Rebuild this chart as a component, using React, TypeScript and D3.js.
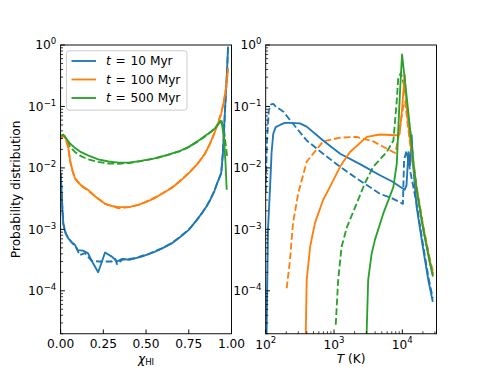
import React from "react";
import * as d3 from "d3";

const width = 485;
const height = 375;
const plotTop = 45;
const plotBottom = 333.75;
const leftRange: [number, number] = [60.6, 231.5];
const rightRange: [number, number] = [265.7, 436.5];

const colors = ["#1f77b4", "#ff7f0e", "#2ca02c"];
const ages = ["10", "100", "500"];
const chiTicks = [0, 0.25, 0.5, 0.75, 1];
const tempDecades = [2, 3, 4];
const probDecades = [-4, -3, -2, -1, 0];

// left panel: neutral fraction, [chi, probability]
const chiSolid10: [number, number][] = [
  [0, 8.3e-3], [0.006, 4e-3], [0.011, 2e-3], [0.016, 1.2e-3], [0.03, 8.5e-4], [0.045, 7.1e-4],
  [0.065, 6.2e-4], [0.084, 5.6e-4], [0.1, 4.6e-4], [0.13, 4.5e-4], [0.16, 4.1e-4], [0.19, 2.8e-4],
  [0.22, 2.0e-4], [0.26, 4.2e-4], [0.3, 3.6e-4], [0.33, 3.0e-4], [0.36, 3.3e-4], [0.4, 3.2e-4],
  [0.44, 3.4e-4], [0.475, 3.6e-4], [0.51, 3.9e-4], [0.55, 4.3e-4], [0.6, 5.0e-4], [0.65, 5.9e-4],
  [0.7, 7.5e-4], [0.75, 9.8e-4], [0.79, 1.35e-3], [0.825, 1.8e-3], [0.855, 2.4e-3], [0.875, 3.0e-3],
  [0.9, 4.2e-3], [0.92, 6.0e-3], [0.94, 8.2e-3], [0.95, 0.018], [0.962, 0.088], [0.972, 0.3], [0.98, 0.94],
];
const chiDashed10: [number, number][] = [
  [0, 8.3e-3], [0.006, 4.1e-3], [0.011, 2.1e-3], [0.016, 1.25e-3], [0.03, 8.6e-4], [0.045, 7.2e-4],
  [0.065, 6.1e-4], [0.084, 5.4e-4], [0.1, 4.5e-4], [0.11, 3.8e-4], [0.143, 4.1e-4], [0.18, 3.1e-4],
  [0.22, 3.0e-4], [0.26, 3.0e-4], [0.3, 3.0e-4], [0.32, 3.3e-4], [0.33, 2.7e-4], [0.36, 3.2e-4],
  [0.4, 3.3e-4], [0.44, 3.4e-4], [0.475, 3.7e-4], [0.51, 3.9e-4], [0.55, 4.4e-4], [0.6, 5.0e-4],
  [0.65, 6.0e-4], [0.7, 7.6e-4], [0.75, 9.9e-4], [0.79, 1.33e-3], [0.825, 1.8e-3], [0.855, 2.4e-3],
  [0.875, 3.0e-3], [0.9, 4.3e-3], [0.92, 6.0e-3], [0.94, 8.3e-3], [0.95, 0.018], [0.962, 0.085],
  [0.972, 0.29], [0.98, 0.92],
];
const chiSolid100: [number, number][] = [
  [0, 0.031], [0.015, 0.034], [0.026, 0.033], [0.045, 0.022], [0.055, 0.0134], [0.07, 0.009],
  [0.084, 0.0068], [0.12, 0.0052], [0.16, 0.0044], [0.21, 0.0033], [0.26, 0.0026], [0.3, 0.0024],
  [0.34, 0.0023], [0.4, 0.0023], [0.455, 0.0025], [0.5, 0.0028], [0.55, 0.0032], [0.6, 0.0039],
  [0.65, 0.0047], [0.7, 0.0061], [0.75, 0.0082], [0.8, 0.0115], [0.845, 0.017], [0.875, 0.025],
  [0.9, 0.037], [0.92, 0.052], [0.94, 0.077], [0.955, 0.12], [0.968, 0.2], [0.98, 0.42],
];
const chiDashed100: [number, number][] = [
  [0, 0.03], [0.015, 0.033], [0.026, 0.032], [0.045, 0.021], [0.055, 0.013], [0.07, 0.0088],
  [0.084, 0.0067], [0.12, 0.0051], [0.16, 0.0043], [0.21, 0.0033], [0.26, 0.0026], [0.3, 0.0024],
  [0.34, 0.0022], [0.4, 0.0023], [0.455, 0.0025], [0.5, 0.0028], [0.55, 0.0033], [0.6, 0.0039],
  [0.65, 0.0048], [0.7, 0.0062], [0.75, 0.0083], [0.8, 0.0116], [0.845, 0.0172], [0.875, 0.025],
  [0.9, 0.037], [0.92, 0.053], [0.94, 0.078], [0.955, 0.12], [0.968, 0.2], [0.98, 0.41],
];
const chiSolid500: [number, number][] = [
  [0, 0.033], [0.015, 0.035], [0.03, 0.031], [0.055, 0.025], [0.085, 0.021], [0.12, 0.018],
  [0.16, 0.016], [0.22, 0.0138], [0.28, 0.0127], [0.34, 0.0122], [0.4, 0.0122], [0.47, 0.013],
  [0.55, 0.0143], [0.62, 0.0162], [0.7, 0.019], [0.75, 0.022], [0.8, 0.027], [0.85, 0.034],
  [0.884, 0.039], [0.91, 0.046], [0.935, 0.058], [0.945, 0.05], [0.955, 0.032], [0.965, 0.012],
  [0.972, 0.0044],
];
const chiDashed500: [number, number][] = [
  [0, 0.032], [0.015, 0.034], [0.03, 0.03], [0.055, 0.022], [0.085, 0.018], [0.12, 0.0155],
  [0.16, 0.0138], [0.22, 0.0125], [0.28, 0.0118], [0.34, 0.0117], [0.4, 0.012], [0.47, 0.0129],
  [0.55, 0.0142], [0.62, 0.016], [0.7, 0.0188], [0.75, 0.0218], [0.8, 0.0265], [0.85, 0.033],
  [0.884, 0.04], [0.91, 0.047], [0.94, 0.06], [0.955, 0.045], [0.965, 0.025], [0.975, 0.015],
];

// right panel: temperature, [T (K), probability]
const tempSolid10: [number, number][] = [
  [103, 2e-5], [108, 1e-3], [116, 5e-3], [122, 0.018], [129, 0.036], [140, 0.046], [162, 0.05],
  [190, 0.054], [227, 0.054], [316, 0.053], [398, 0.047], [692, 0.028], [1230, 0.017], [2400, 0.0115],
  [4700, 0.0076], [7100, 0.006], [10800, 0.0044], [11500, 0.0052], [12300, 0.018], [13000, 0.011],
  [13700, 0.034], [14300, 0.012], [16200, 2.3e-3], [20300, 4.6e-4], [24000, 1.5e-4], [27900, 6.6e-5],
];
const tempDashed10: [number, number][] = [
  [100, 0.004], [104, 0.025], [111, 0.087], [120, 0.108], [129, 0.11], [140, 0.1], [182, 0.082],
  [227, 0.06], [398, 0.028], [692, 0.017], [1230, 0.0104], [2300, 0.0064], [4680, 0.0038],
  [7100, 0.0032], [10200, 0.0026], [10600, 0.0135], [11500, 0.019], [13000, 0.009], [16200, 2.6e-3],
  [20300, 5.2e-4], [24000, 1.7e-4], [27900, 7.5e-5],
];
const tempSolid100: [number, number][] = [
  [386, 2e-5], [398, 1.5e-4], [447, 5.2e-4], [525, 1.26e-3], [692, 3e-3], [871, 4.9e-3],
  [1230, 0.0105], [1700, 0.018], [3020, 0.032], [4680, 0.035], [8300, 0.034], [9100, 0.035],
  [9900, 0.09], [10800, 0.33], [11700, 0.08], [12900, 0.031], [14000, 0.015], [16200, 4.4e-3],
  [20300, 9.8e-4], [25400, 2.8e-4], [28000, 1.9e-4],
];
const tempDashed100: [number, number][] = [
  [203, 1.1e-4], [227, 3.2e-4], [251, 1.26e-3], [300, 3.9e-3], [398, 0.0126], [692, 0.027],
  [1230, 0.031], [2140, 0.032], [3760, 0.027], [7400, 0.018], [7900, 0.0175], [8700, 0.03],
  [10300, 0.1], [11000, 0.12], [12000, 0.05], [13000, 0.025], [14000, 0.013], [16200, 5e-3],
  [20300, 1.1e-3], [25400, 3.2e-4], [28000, 2.1e-4],
];
const tempSolid500: [number, number][] = [
  [3000, 2e-5], [3160, 1.5e-4], [3550, 4e-4], [3980, 6.8e-4], [5250, 1.8e-3], [7400, 4.9e-3],
  [8300, 0.0119], [8700, 0.04], [9300, 0.2], [9900, 0.7], [11500, 0.155], [13200, 0.035],
  [14500, 0.012], [16200, 4.4e-3], [20300, 9.8e-4], [25400, 2.8e-4], [28000, 1.7e-4],
];
const tempDashed500: [number, number][] = [
  [1060, 2.8e-5], [1150, 1.5e-4], [1290, 5.2e-4], [1550, 1.1e-3], [2040, 2.3e-3], [2820, 5.6e-3],
  [3760, 0.0105], [5890, 0.018], [7400, 0.028], [8300, 0.126], [8700, 0.29], [9500, 0.35],
  [9900, 0.3], [10800, 0.2], [12000, 0.081], [13500, 0.03], [14500, 0.013], [16200, 4.6e-3],
  [20300, 1.05e-3], [25400, 3e-4], [28000, 1.8e-4],
];

const chiSolid = [chiSolid10, chiSolid100, chiSolid500];
const chiDashed = [chiDashed10, chiDashed100, chiDashed500];
const tempSolid = [tempSolid10, tempSolid100, tempSolid500];
const tempDashed = [tempDashed10, tempDashed100, tempDashed500];

const font = "DejaVu Sans, sans-serif";
const fs = 12.2;
const supFs = 8.6;
const lw = 1.85;
const dash = "6.8,2.95";
const majorLen = 4.3;
const minorLen = 2.5;

const yScale = d3.scaleLog().domain([2e-5, 1]).range([plotBottom, plotTop]);
const xChi = d3.scaleLinear().domain([0, 1]).range(leftRange);
const xTemp = d3.scaleLog().domain([100, 10 ** 4.5]).range(rightRange);

const minorLog = (domain: number[]) => {
  const out: number[] = [];
  const lo = Math.floor(Math.log10(domain[0]));
  const hi = Math.ceil(Math.log10(domain[1]));
  for (let k = lo; k <= hi; k++) {
    for (let m = 2; m <= 9; m++) {
      const v = m * 10 ** k;
      if (v >= domain[0] && v <= domain[1]) out.push(v);
    }
  }
  return out;
};

const Pow = ({ x, y, exp, anchor }: { x: number; y: number; exp: number; anchor: string }) => (
  <text x={x} y={y} textAnchor={anchor} fontSize={fs} fontFamily={font}>
    10
    <tspan dy={-5.2} fontSize={supFs}>{exp < 0 ? `\u2212${-exp}` : `${exp}`}</tspan>
  </text>
);

const YAxis = ({ x0 }: { x0: number }) => (
  <g>
    {minorLog(yScale.domain()).map((v, i) => (
      <line key={`m${i}`} x1={x0} x2={x0 + minorLen} y1={yScale(v)} y2={yScale(v)} stroke="#000" strokeWidth={0.75} />
    ))}
    {probDecades.map((k) => (
      <g key={k}>
        <line x1={x0} x2={x0 + majorLen} y1={yScale(10 ** k)} y2={yScale(10 ** k)} stroke="#000" strokeWidth={0.95} />
        <Pow x={x0 - 4.3} y={yScale(10 ** k) + 4.4} exp={k} anchor="end" />
      </g>
    ))}
  </g>
);

const App = () => {
  const lineChi = d3.line<[number, number]>().x((d) => xChi(d[0])).y((d) => yScale(d[1]));
  const lineTemp = d3.line<[number, number]>().x((d) => xTemp(d[0])).y((d) => yScale(d[1]));
  const h = plotBottom - plotTop;

  return (
    <svg width={width} height={height} style={{ display: "block", margin: -8 }}>
      <defs>
        <clipPath id="clipL">
          <rect x={leftRange[0]} y={plotTop} width={leftRange[1] - leftRange[0]} height={h} />
        </clipPath>
        <clipPath id="clipR">
          <rect x={rightRange[0]} y={plotTop} width={rightRange[1] - rightRange[0]} height={h} />
        </clipPath>
      </defs>
      <rect width={width} height={height} fill="#fff" />

      {/* left panel */}
      <g clipPath="url(#clipL)" fill="none" strokeWidth={lw} strokeLinejoin="round">
        {chiDashed.map((s, i) => (
          <path key={`cd${i}`} d={lineChi(s) ?? ""} stroke={colors[i]} strokeDasharray={dash} />
        ))}
        {chiSolid.map((s, i) => (
          <path key={`cs${i}`} d={lineChi(s) ?? ""} stroke={colors[i]} />
        ))}
      </g>
      <YAxis x0={leftRange[0]} />
      {chiTicks.map((t) => (
        <g key={t}>
          <line x1={xChi(t)} x2={xChi(t)} y1={plotBottom} y2={plotBottom - majorLen} stroke="#000" strokeWidth={0.95} />
          <text x={xChi(t)} y={348} textAnchor="middle" fontSize={fs} fontFamily={font}>
            {t.toFixed(2)}
          </text>
        </g>
      ))}
      <rect x={leftRange[0]} y={plotTop} width={leftRange[1] - leftRange[0]} height={h} fill="none" stroke="#000" strokeWidth={0.95} />
      <text x={xChi(0.5)} y={363} textAnchor="middle" fontSize={fs} fontFamily={font}>
        <tspan fontStyle="italic">χ</tspan>
        <tspan fontSize={supFs} dy={2.2}>HI</tspan>
      </text>
      <text transform={`translate(19.5,${(plotTop + plotBottom) / 2}) rotate(-90)`} textAnchor="middle" fontSize={fs} fontFamily={font}>
        Probability distribution
      </text>

      {/* legend */}
      <g>
        <rect x={66.5} y={50.8} width={120.5} height={59.3} rx={2.5} fill="#fff" fillOpacity={0.8} stroke="#ccc" strokeWidth={1} />
        {ages.map((a, i) => {
          const cy = 61 + i * 18.5;
          return (
            <g key={a}>
              <line x1={71.5} x2={96} y1={cy} y2={cy} stroke={colors[i]} strokeWidth={lw} />
              <text x={106} y={cy + 4.4} fontSize={fs} fontFamily={font} fontStyle="italic">t</text>
              <text x={115.5} y={cy + 4.4} fontSize={fs} fontFamily={font}>=</text>
              <text x={130.5} y={cy + 4.4} fontSize={fs} fontFamily={font}>{`${a} Myr`}</text>
            </g>
          );
        })}
      </g>

      {/* right panel */}
      <g clipPath="url(#clipR)" fill="none" strokeWidth={lw} strokeLinejoin="round">
        {tempDashed.map((s, i) => (
          <path key={`td${i}`} d={lineTemp(s) ?? ""} stroke={colors[i]} strokeDasharray={dash} />
        ))}
        {tempSolid.map((s, i) => (
          <path key={`ts${i}`} d={lineTemp(s) ?? ""} stroke={colors[i]} />
        ))}
      </g>
      <YAxis x0={rightRange[0]} />
      {minorLog(xTemp.domain()).map((v, i) => (
        <line key={`xm${i}`} x1={xTemp(v)} x2={xTemp(v)} y1={plotBottom} y2={plotBottom - minorLen} stroke="#000" strokeWidth={0.75} />
      ))}
      {tempDecades.map((k) => (
        <g key={k}>
          <line x1={xTemp(10 ** k)} x2={xTemp(10 ** k)} y1={plotBottom} y2={plotBottom - majorLen} stroke="#000" strokeWidth={0.95} />
          <Pow x={xTemp(10 ** k)} y={348.5} exp={k} anchor="middle" />
        </g>
      ))}
      <rect x={rightRange[0]} y={plotTop} width={rightRange[1] - rightRange[0]} height={h} fill="none" stroke="#000" strokeWidth={0.95} />
      <text x={(rightRange[0] + rightRange[1]) / 2} y={363} textAnchor="middle" fontSize={fs} fontFamily={font}>
        <tspan fontStyle="italic">T</tspan> (K)
      </text>
    </svg>
  );
};

export default App;
